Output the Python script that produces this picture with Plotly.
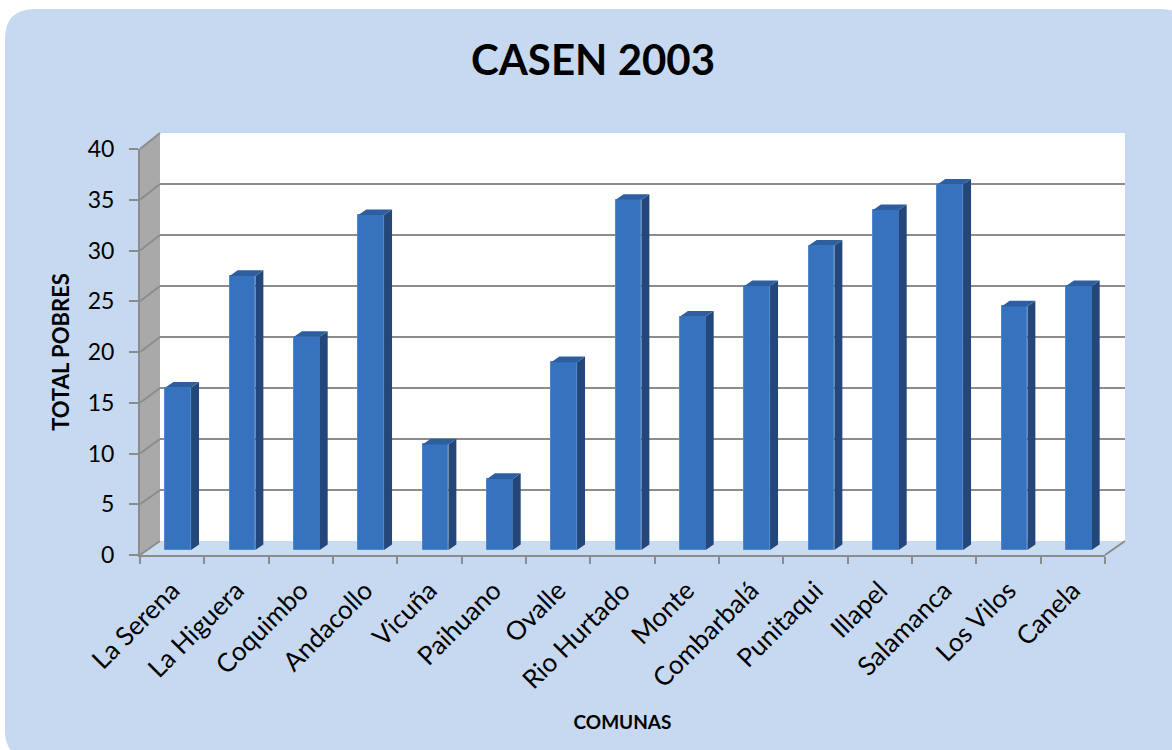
import plotly.graph_objects as go

# ---------------- data ----------------
comunas = ["La Serena", "La Higuera", "Coquimbo", "Andacollo", "Vicuña", "Paihuano",
           "Ovalle", "Rio Hurtado", "Monte", "Combarbalá", "Punitaqui", "Illapel",
           "Salamanca", "Los Vilos", "Canela"]
total_pobres = [16, 27, 21, 33, 10.4, 7, 18.5, 34.5, 23, 26, 30, 33.5, 36, 24, 26]
y_ticks = [0, 5, 10, 15, 20, 25, 30, 35, 40]
y_max = 40
chart_title = "CASEN 2003"
x_title = "COMUNAS"
y_title = "TOTAL POBRES"

# ---------------- geometry (pixels) ----------------
W, H = 1172, 750
FRONT_L, FRONT_R, FRONT_Y0, FRONT_YT = 140, 1105, 555, 149   # front (labelled) axes
BACK_L, BACK_R, BACK_Y0, BACK_YT = 160, 1125, 541, 133       # back wall
BAR_L, BAR_R, BAR_Y0, BAR_YT = 146, 1111, 550, 144           # front faces of bars
BAR_WIDTH = 0.4
DEPTH_X, DEPTH_Y = 8, 5.6                                     # bar depth in px

FONT = "Lato"
GRID = "#8C8C8C"
BG = "#C6D9F0"
FRONT_C = "#3672BE"
SIDE_C = "#23477A"
TOP_C = "#2D5E9F"


def fx(p):
    return p / W


def fy(p):
    return 1 - p / H


shapes = []

# rounded chart-area background
L, T, R, B, r = 5, 9, 1190, 760, 30
bg_path = (f"M {fx(L + r)},{fy(T)} L {fx(R - r)},{fy(T)} Q {fx(R)},{fy(T)} {fx(R)},{fy(T + r)} "
           f"L {fx(R)},{fy(B - r)} Q {fx(R)},{fy(B)} {fx(R - r)},{fy(B)} "
           f"L {fx(L + r)},{fy(B)} Q {fx(L)},{fy(B)} {fx(L)},{fy(B - r)} "
           f"L {fx(L)},{fy(T + r)} Q {fx(L)},{fy(T)} {fx(L + r)},{fy(T)} Z")
shapes.append(dict(type="path", xref="paper", yref="paper", path=bg_path,
                   fillcolor=BG, line=dict(width=0), layer="below"))

# back wall
shapes.append(dict(type="rect", xref="paper", yref="paper",
                   x0=fx(BACK_L), x1=fx(BACK_R), y0=fy(BACK_Y0), y1=fy(BACK_YT),
                   fillcolor="white", line=dict(width=0), layer="below"))
# side wall
side_path = (f"M {fx(FRONT_L)},{fy(FRONT_Y0)} L {fx(FRONT_L)},{fy(FRONT_YT)} "
             f"L {fx(BACK_L)},{fy(BACK_YT)} L {fx(BACK_L)},{fy(BACK_Y0)} Z")
shapes.append(dict(type="path", xref="paper", yref="paper", path=side_path,
                   fillcolor="#A9A9A9", line=dict(width=0), layer="below"))
# floor
floor_path = (f"M {fx(FRONT_L)},{fy(FRONT_Y0)} L {fx(FRONT_R)},{fy(FRONT_Y0)} "
              f"L {fx(BACK_R)},{fy(BACK_Y0)} L {fx(BACK_L)},{fy(BACK_Y0)} Z")
shapes.append(dict(type="path", xref="paper", yref="paper", path=floor_path,
                   fillcolor="#CADCF1", line=dict(width=0), layer="below"))
# floor right edge
shapes.append(dict(type="line", xref="paper", yref="paper",
                   x0=fx(FRONT_R), y0=fy(FRONT_Y0), x1=fx(BACK_R), y1=fy(BACK_Y0),
                   line=dict(color=GRID, width=2), layer="below"))
# diagonal grid lines on the side wall (one per tick value)
for t in y_ticks:
    yf = FRONT_Y0 - (FRONT_Y0 - FRONT_YT) * t / y_max
    yb = BACK_Y0 - (BACK_Y0 - BACK_YT) * t / y_max
    shapes.append(dict(type="line", xref="paper", yref="paper",
                       x0=fx(FRONT_L), y0=fy(yf), x1=fx(BACK_L), y1=fy(yb),
                       line=dict(color=GRID, width=2), layer="below"))

# 3-D side and top faces of the bars (x in px around the category, y in data units)
cat_px = (BAR_R - BAR_L) / len(comunas)
half = BAR_WIDTH * cat_px / 2
px_per_unit = (BAR_Y0 - BAR_YT) / y_max
dyu = DEPTH_Y / px_per_unit
for name, v in zip(comunas, total_pobres):
    side = (f"M {half},0 L {half + DEPTH_X},{dyu} L {half + DEPTH_X},{v + dyu} "
            f"L {half},{v} Z")
    shapes.append(dict(type="path", xref="x3", yref="y3", xsizemode="pixel", xanchor=name,
                       path=side, fillcolor=SIDE_C, line=dict(width=0), layer="above"))
    top = (f"M {-half},{v} L {half},{v} L {half + DEPTH_X},{v + dyu} "
           f"L {-half + DEPTH_X},{v + dyu} Z")
    shapes.append(dict(type="path", xref="x3", yref="y3", xsizemode="pixel", xanchor=name,
                       path=top, fillcolor=TOP_C, line=dict(width=0), layer="above"))

fig = go.Figure()
# invisible trace that carries the back-wall grid (subplot drawn first)
fig.add_trace(go.Scatter(x=comunas, y=total_pobres, xaxis="x", yaxis="y", mode="markers",
                         marker=dict(opacity=0), showlegend=False, hoverinfo="skip"))
# invisible trace that carries the labelled front axes
fig.add_trace(go.Scatter(x=comunas, y=total_pobres, xaxis="x2", yaxis="y2", mode="markers",
                         marker=dict(opacity=0), showlegend=False, hoverinfo="skip"))
# the bars (front faces), drawn on top of the wall grid
fig.add_trace(go.Bar(x=comunas, y=total_pobres, width=BAR_WIDTH, xaxis="x3", yaxis="y3",
                     marker=dict(color=FRONT_C, line=dict(color="#4F86CC", width=1)),
                     showlegend=False, hoverinfo="x+y"))

cat_range = [-0.5, len(comunas) - 0.5]
fig.update_layout(
    width=W, height=H,
    margin=dict(l=0, r=0, t=0, b=0, pad=0, autoexpand=False),
    paper_bgcolor="white",
    plot_bgcolor="rgba(0,0,0,0)",
    font=dict(family=FONT, color="black"),
    title=dict(text=f"<b>{chart_title}</b>", x=593 / W, xanchor="center",
               y=fy(60), yanchor="middle", automargin=False,
               font=dict(family=FONT, size=42, color="black")),
    # back wall grid
    xaxis=dict(domain=[fx(BACK_L), fx(BACK_R)], anchor="y", type="category",
               categoryorder="array", categoryarray=comunas, range=cat_range,
               showticklabels=False, showgrid=False, zeroline=False, showline=False,
               ticks="", fixedrange=True, automargin=False),
    yaxis=dict(domain=[fy(BACK_Y0), fy(BACK_YT)], anchor="x", range=[0, y_max],
               tickmode="array", tickvals=y_ticks, showgrid=True, gridcolor=GRID,
               gridwidth=2, showticklabels=False, ticks="", zeroline=False,
               showline=False, fixedrange=True, automargin=False),
    # labelled front axes
    xaxis2=dict(domain=[fx(FRONT_L), fx(FRONT_R)], anchor="y2", type="category",
                categoryorder="array", categoryarray=comunas, range=cat_range,
                tickson="boundaries", ticks="outside", ticklen=7, tickwidth=2,
                tickcolor=GRID, showline=True, linecolor=GRID, linewidth=2,
                showgrid=False, zeroline=False, tickangle=-45, ticklabelstandoff=8,
                tickfont=dict(family=FONT, size=26, color="black"),
                title=dict(text=f"<b>{x_title}</b>", standoff=22,
                           font=dict(family=FONT, size=19, color="black")),
                fixedrange=True, automargin=False),
    yaxis2=dict(domain=[fy(FRONT_Y0), fy(FRONT_YT)], anchor="x2", range=[0, y_max],
                tickmode="array", tickvals=y_ticks, ticks="outside", ticklen=9, tickwidth=2,
                tickcolor=GRID, showline=True, linecolor=GRID, linewidth=2,
                showgrid=False, zeroline=False, ticklabelstandoff=10,
                tickfont=dict(family=FONT, size=23, color="black"),
                title=dict(text=f"<b>{y_title}</b>", standoff=12,
                           font=dict(family=FONT, size=22, color="black")),
                fixedrange=True, automargin=False),
    # bars
    xaxis3=dict(domain=[fx(BAR_L), fx(BAR_R)], anchor="y3", type="category",
                categoryorder="array", categoryarray=comunas, range=cat_range,
                showticklabels=False, showgrid=False, zeroline=False, showline=False,
                ticks="", fixedrange=True, automargin=False),
    yaxis3=dict(domain=[fy(BAR_Y0), fy(BAR_YT)], anchor="x3", range=[0, y_max],
                visible=False, fixedrange=True, automargin=False),
    shapes=shapes,
    bargap=0,
)

fig.write_html("out.html", post_script="document.body.style.margin='0';",
               config={"displayModeBar": False})
